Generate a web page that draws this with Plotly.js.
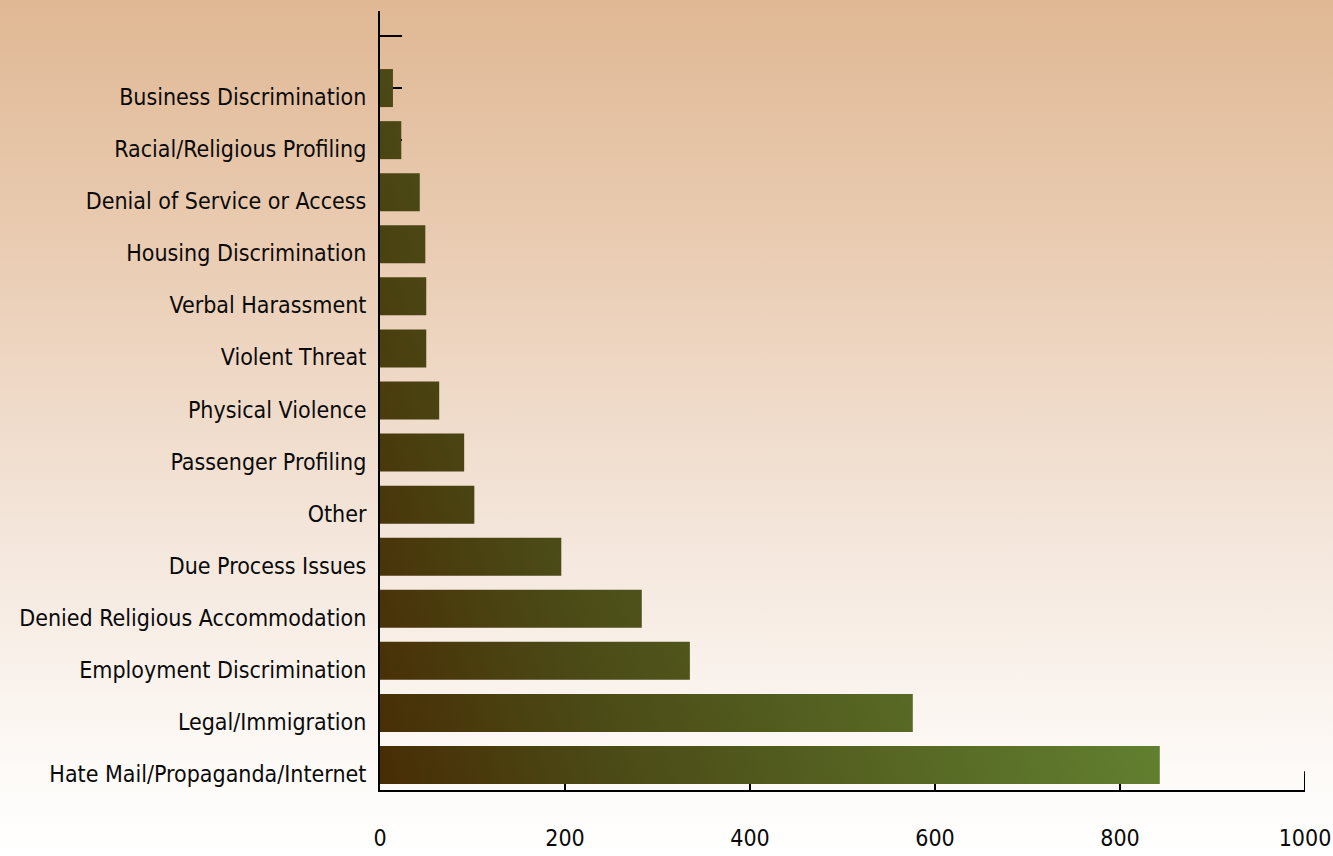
<!DOCTYPE html>
<html>
<head>
<meta charset="utf-8">
<script src="https://cdn.plot.ly/plotly-3.0.1.min.js"></script>
<style>
  html, body { margin: 0; padding: 0; }
  body {
    width: 1333px; height: 856px; overflow: hidden;
    background: linear-gradient(to bottom, #e0b894 0%, #eacdb4 30%, #f3e4d8 60%, #fdfaf7 90%, #ffffff 100%);
  }
  #chart { width: 1333px; height: 856px; }
</style>
</head>
<body>
<div id="chart"></div>
<script>
// Categories listed top to bottom as shown in the chart
const categories = [
  "Business Discrimination",
  "Racial/Religious Profiling",
  "Denial of Service or Access",
  "Housing Discrimination",
  "Verbal Harassment",
  "Violent Threat",
  "Physical Violence",
  "Passenger Profiling",
  "Other",
  "Due Process Issues",
  "Denied Religious Accommodation",
  "Employment Discrimination",
  "Legal/Immigration",
  "Hate Mail/Propaganda/Internet"
];
const values = [14, 23, 43, 49, 50, 50, 64, 91, 102, 196, 283, 335, 576, 843];
const xTicks = [0, 200, 400, 600, 800, 1000];

const n = categories.length;
// bottom category at position 0, one empty slot above the top category
const yPos = categories.map((c, i) => n - 1 - i);
const yTickVals = [];
const yTickText = [];
for (let k = 0; k <= n; k++) {
  yTickVals.push(k);
  yTickText.push(k < n ? categories[n - 1 - k] : "");
}

const FONT = "'Liberation Sans Narrow', 'Arial Narrow', 'DejaVu Sans Condensed', sans-serif";

const trace = {
  type: "bar",
  orientation: "h",
  x: values,
  y: yPos,
  width: 0.73,
  marker: { color: "#4f5019", line: { width: 0 } },
  hoverinfo: "x+text",
  text: categories,
  textposition: "none"
};

const layout = {
  width: 1333, height: 856,
  paper_bgcolor: "rgba(0,0,0,0)",
  plot_bgcolor: "rgba(0,0,0,0)",
  margin: { l: 380, r: 28, t: 11, b: 66, pad: 0 },
  showlegend: false,
  font: { family: FONT, size: 23, color: "#111111" },
  xaxis: {
    range: [0, 1000],
    tickvals: xTicks,
    ticktext: xTicks.map(String),
    ticks: "inside", ticklen: 6, tickwidth: 2, tickcolor: "#000",
    showline: true, linecolor: "#000", linewidth: 2,
    showgrid: false, zeroline: false,
    ticklabelstandoff: 26,
    tickfont: { family: FONT, size: 23, color: "#0a0a0a" },
    layer: "below traces",
    fixedrange: true
  },
  yaxis: {
    range: [-0.48, n + 0.48],
    tickvals: yTickVals,
    ticktext: yTickText,
    ticks: "inside", ticklen: 22, tickwidth: 2, tickcolor: "#000",
    showline: true, linecolor: "#000", linewidth: 2,
    showgrid: false, zeroline: false,
    ticklabelstandoff: 7,
    ticklabelshift: 9,
    tickfont: { family: FONT, size: 23, color: "#0a0a0a" },
    layer: "below traces",
    fixedrange: true
  },
  shapes: [{
    type: "line", xref: "x", yref: "paper",
    x0: 1000, x1: 1000, y0: 0, y1: 0.024,
    line: { color: "#000", width: 2 }
  }]
};

const gd = document.getElementById("chart");
Plotly.newPlot(gd, [trace], layout, { displayModeBar: false, staticPlot: true }).then(function () {
  const svg = gd.querySelector("svg.main-svg");
  let defs = svg.querySelector("defs");
  const NS = "http://www.w3.org/2000/svg";
  if (!defs) { defs = document.createElementNS(NS, "defs"); svg.insertBefore(defs, svg.firstChild); }
  const sz = gd._fullLayout._size;
  const g = document.createElementNS(NS, "linearGradient");
  g.setAttribute("id", "barGrad");
  g.setAttribute("gradientUnits", "userSpaceOnUse");
  g.setAttribute("x1", 0);
  g.setAttribute("y1", sz.h);
  g.setAttribute("x2", sz.w * 0.93);
  g.setAttribute("y2", sz.h * 0.666);
  const stops = [[0, "#482c04"], [0.25, "#4b4a16"], [0.6, "#586a25"], [0.85, "#628030"], [1, "#6a8c38"]];
  stops.forEach(function (s) {
    const st = document.createElementNS(NS, "stop");
    st.setAttribute("offset", s[0]);
    st.setAttribute("stop-color", s[1]);
    g.appendChild(st);
  });
  defs.appendChild(g);
  gd.querySelectorAll(".barlayer .point path").forEach(function (p) {
    p.style.fill = "url(#barGrad)";
  });
});
</script>
</body>
</html>
